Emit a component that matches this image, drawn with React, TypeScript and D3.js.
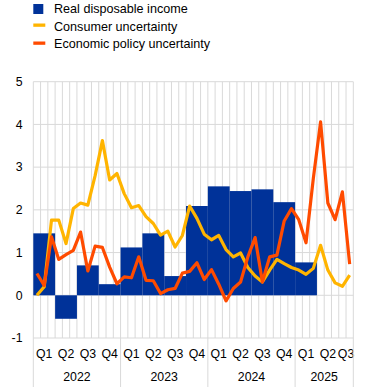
import React from "react";
import * as d3 from "d3";

const quarters = ["Q1", "Q2", "Q3", "Q4", "Q1", "Q2", "Q3", "Q4", "Q1", "Q2", "Q3", "Q4", "Q1", "Q2", "Q3"];
const years = ["2022", "2023", "2024", "2025"];
const monthsPerYear = [12, 12, 12, 8];
const incomeValues = [1.45, -0.55, 0.7, 0.26, 1.12, 1.45, 0.45, 2.09, 2.55, 2.44, 2.48, 2.18, 0.77, null, null];
const consumerValues = [
  0.0, 0.2, 1.76, 1.76, 1.21, 2.03, 2.16, 2.11, 2.8, 3.62, 2.7, 2.85,
  2.38, 2.05, 2.1, 1.84, 1.68, 1.41, 1.5, 1.13, 1.4, 2.09, 1.8, 1.43,
  1.3, 1.4, 1.07, 0.9, 0.99, 0.65, 0.45, 0.31, 0.59, 0.84, 0.74, 0.65,
  0.59, 0.49, 0.63, 1.17, 0.59, 0.29, 0.21, 0.47,
];
const policyValues = [
  0.51, 0.23, 1.37, 0.84, 0.95, 1.05, 1.48, 0.57, 1.15, 1.12, 0.66, 0.27,
  0.43, 0.41, 0.9, 0.35, 0.34, 0.04, 0.13, 0.16, 0.52, 0.56, 0.76, 0.37,
  0.6, 0.26, -0.13, 0.16, 0.31, 0.9, 1.35, 0.31, 0.9, 0.94, 1.74, 2.03,
  1.77, 1.23, 2.73, 4.06, 2.16, 1.77, 2.42, 0.73,
];
const yTicks = [-1, 0, 1, 2, 3, 4, 5];
const legendItems = ["Real disposable income", "Consumer uncertainty", "Economic policy uncertainty"];

const BLUE = "#003299";
const YELLOW = "#ffb400";
const RED = "#ff4b00";
const GRID = "#d9d9d9";
const FONT = "'Liberation Sans', Arial, sans-serif";

export default function App() {
  const W = 372, H = 387;
  const left = 33.3, right = 353.3, top = 81.7, bottom = 338;
  const nMonths = consumerValues.length;
  const x = d3.scaleLinear().domain([0, nMonths]).range([left, right]);
  const y = d3.scaleLinear().domain([-1, 5]).range([bottom, top]);
  const line = d3
    .line<number>()
    .x((_, i) => x(i + 0.5))
    .y((d) => y(d));

  const yearStarts: number[] = [];
  let acc = 0;
  monthsPerYear.forEach((m) => {
    yearStarts.push(acc);
    acc += m;
  });

  return (
    <svg width={W} height={H} style={{ position: "absolute", left: 0, top: 0 }} fontFamily={FONT}>
      {/* legend */}
      <rect x={33.3} y={4} width={10} height={10} fill={BLUE} />
      <rect x={33.3} y={23.5} width={12} height={3.3} fill={YELLOW} />
      <rect x={33.3} y={41.5} width={12} height={3.3} fill={RED} />
      {legendItems.map((t, i) => (
        <text key={t} x={54} y={13.2 + i * 17.6} fontSize={12.6} fill="#000">
          {t}
        </text>
      ))}

      {/* grid */}
      {d3.range(nMonths + 1).map((m) => (
        <line key={"v" + m} x1={x(m)} x2={x(m)} y1={top} y2={bottom} stroke={GRID} strokeWidth={1} />
      ))}
      {yTicks.map((t) => (
        <line key={"h" + t} x1={left} x2={right} y1={y(t)} y2={y(t)} stroke={GRID} strokeWidth={1} />
      ))}
      {yTicks.map((t) => (
        <text key={"yl" + t} x={22.5} y={y(t) + 4.3} fontSize={12.3} textAnchor="end" fill="#000">
          {t}
        </text>
      ))}

      {/* bars */}
      {incomeValues.map((v, q) =>
        v === null ? null : (
          <rect
            key={"b" + q}
            x={x(q * 3)}
            width={x(q * 3 + 3) - x(q * 3)}
            y={y(Math.max(0, v))}
            height={Math.abs(y(v) - y(0))}
            fill={BLUE}
          />
        )
      )}

      {/* lines */}
      <path d={line(consumerValues) || ""} fill="none" stroke={YELLOW} strokeWidth={3.2} strokeLinejoin="round" />
      <path d={line(policyValues) || ""} fill="none" stroke={RED} strokeWidth={3.2} strokeLinejoin="round" />

      {/* x axis labels */}
      {quarters.map((q, i) => {
        const s = i * 3;
        const e = Math.min(i * 3 + 3, nMonths);
        return (
          <text key={"q" + i} x={(x(s) + x(e)) / 2} y={357.5} fontSize={12.3} textAnchor="middle" fill="#000">
            {q}
          </text>
        );
      })}
      {years.map((yr, i) => {
        const s = yearStarts[i];
        const e = s + monthsPerYear[i];
        return (
          <text key={yr} x={(x(s) + x(e)) / 2} y={380.7} fontSize={12.3} textAnchor="middle" fill="#000">
            {yr}
          </text>
        );
      })}
      {[...yearStarts, nMonths].map((m) => (
        <line key={"ys" + m} x1={x(m)} x2={x(m)} y1={bottom} y2={H} stroke={GRID} strokeWidth={1} />
      ))}
    </svg>
  );
}
